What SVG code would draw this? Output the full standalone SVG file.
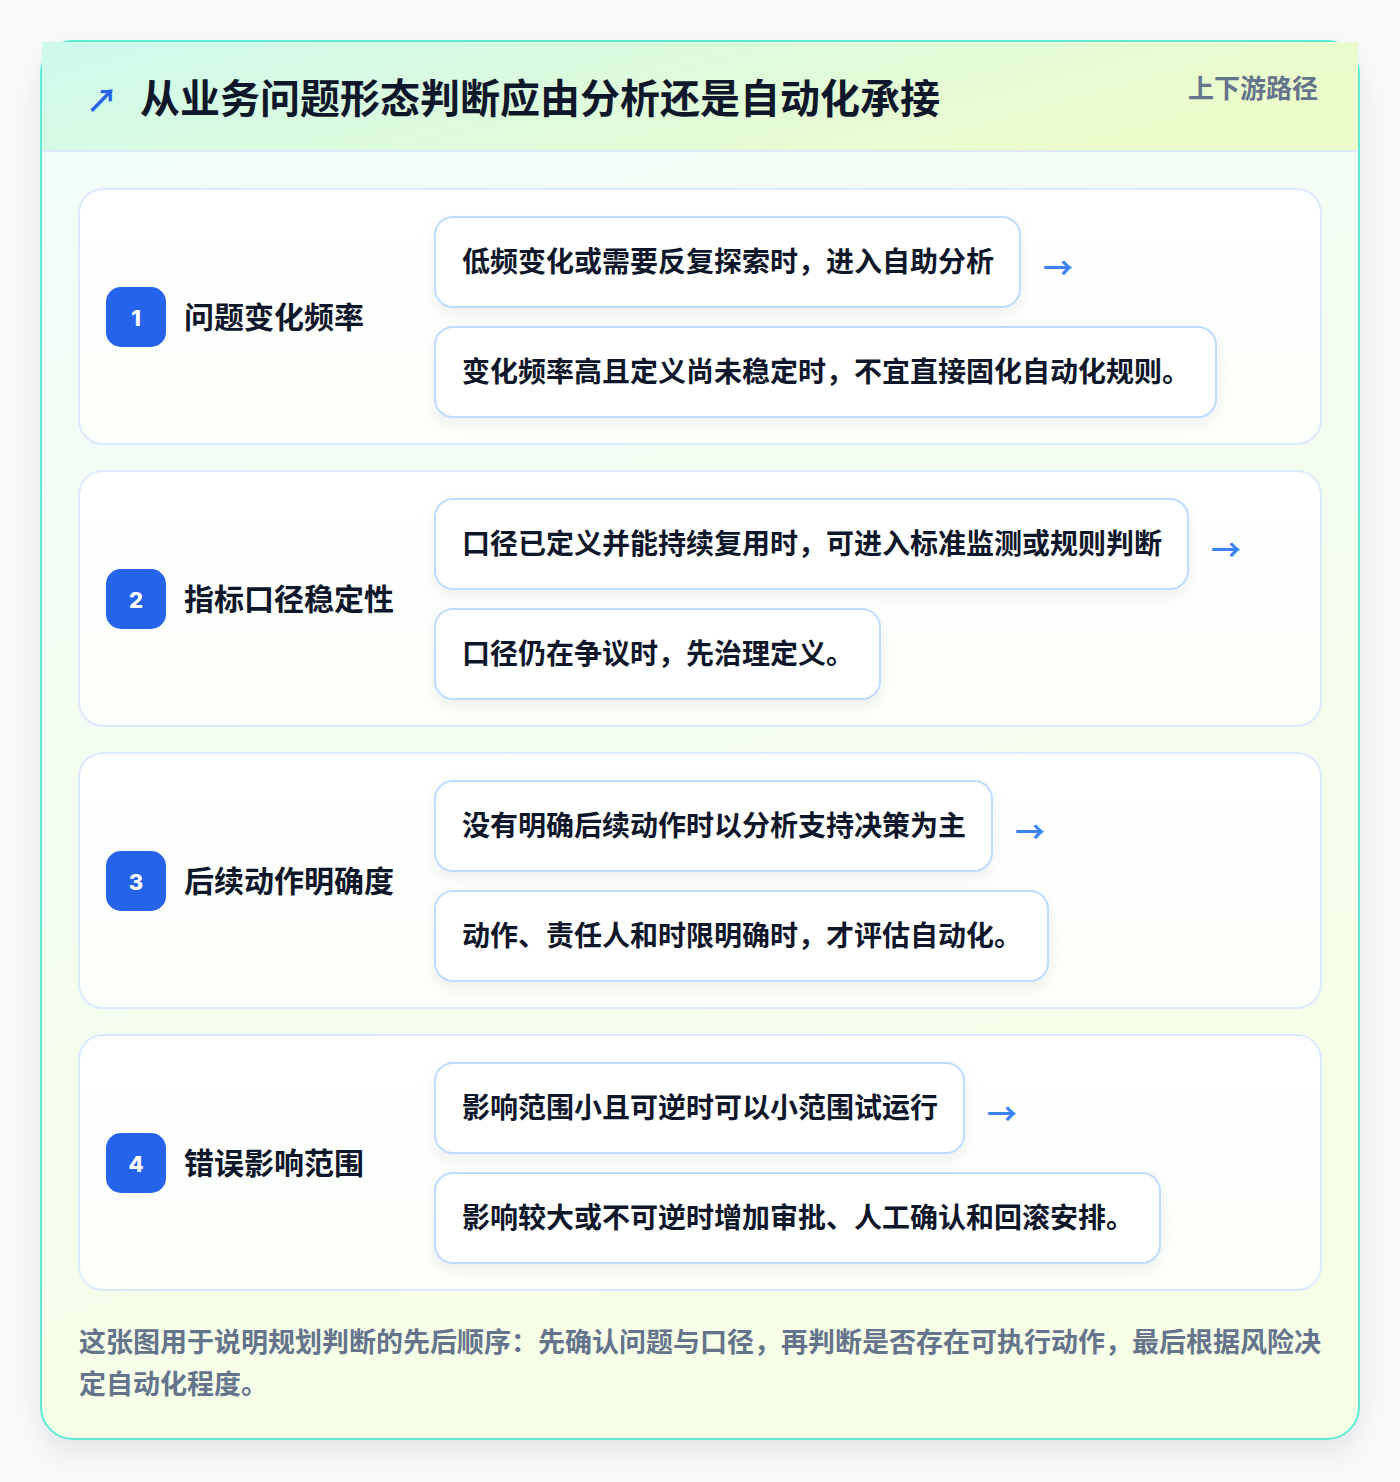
<svg xmlns="http://www.w3.org/2000/svg" width="1400" height="1482" viewBox="0 0 1400 1482">
<defs>
<linearGradient id="outerBg" x1="0" y1="0" x2="0.3" y2="1">
<stop offset="0" stop-color="#effdfa"/>
<stop offset="1" stop-color="#f7fee7"/>
</linearGradient>
<linearGradient id="headBg" x1="0" y1="0" x2="1" y2="0.3">
<stop offset="0" stop-color="#cdfaee"/>
<stop offset="1" stop-color="#ecfccb"/>
</linearGradient>
<linearGradient id="cardBg" x1="0" y1="0" x2="0" y2="1">
<stop offset="0" stop-color="#ffffff"/>
<stop offset="1" stop-color="#fbfef9"/>
</linearGradient>
<filter id="bigShadow" x="-10%" y="-10%" width="120%" height="120%">
<feDropShadow dx="0" dy="12" stdDeviation="14" flood-color="#0f172a" flood-opacity="0.08"/>
</filter>
<filter id="boxShadow" x="-10%" y="-20%" width="120%" height="150%">
<feDropShadow dx="0" dy="6" stdDeviation="7" flood-color="#0f172a" flood-opacity="0.06"/>
</filter>
</defs>
<style>
.title{font-family:"Noto Sans CJK SC","Noto Sans",sans-serif;font-weight:700;font-size:40px;fill:#0f172a}
.tag{font-family:"Noto Sans CJK SC","Noto Sans",sans-serif;font-weight:700;font-size:26px;fill:#64748b}
.card{fill:url(#cardBg);stroke:#dbeafe;stroke-width:2}
.badge{fill:#2563eb}
.num{font-family:"Inter","Noto Sans",sans-serif;font-weight:800;font-size:22px;fill:#ffffff}
.label{font-family:"Noto Sans CJK SC","Noto Sans",sans-serif;font-weight:700;font-size:30px;fill:#0f172a}
.box{fill:#ffffff;stroke:#bfdbfe;stroke-width:2}
.btxt{font-family:"Noto Sans CJK SC","Noto Sans",sans-serif;font-weight:700;font-size:28px;fill:#0f172a}
.arrow{font-family:"Noto Sans CJK SC",sans-serif;font-weight:700;font-size:30px;fill:#3b82f6}
.foot{font-family:"Noto Sans CJK SC","Noto Sans",sans-serif;font-weight:700;font-size:27px;fill:#64748b}
</style>
<rect x="0" y="0" width="1400" height="1482" fill="#f8f9fa"/>
<g id="frame">
<rect x="41" y="41" width="1318" height="1398" rx="32" fill="url(#outerBg)" stroke="#5eead4" stroke-width="2" filter="url(#bigShadow)"/>
<rect x="42" y="42" width="1316" height="109" fill="url(#headBg)"/>
<line x1="42" y1="151" x2="1358" y2="151" stroke="#dbeafe" stroke-width="2"/>
<text x="86" y="112" font-family="Noto Sans CJK SC,sans-serif" font-weight="700" font-size="32" fill="#2563eb">↗</text>
<text class="title" x="140" y="113">从业务问题形态判断应由分析还是自动化承接</text>
<text class="tag" x="1318" y="98" text-anchor="end">上下游路径</text>
</g>
<g id="node1">
<rect class="card" x="79" y="189" width="1242" height="255" rx="24"/>
<rect class="badge" x="106" y="287" width="60" height="60" rx="15"/>
<text class="num" x="136" y="326" text-anchor="middle">1</text>
<text class="label" x="184" y="328">问题变化频率</text>
<rect class="box" x="435" y="217" width="585" height="90" rx="18" filter="url(#boxShadow)"/>
<text class="btxt" x="462" y="272">低频变化或需要反复探索时，进入自助分析</text>
<rect class="box" x="435" y="327" width="781" height="90" rx="18" filter="url(#boxShadow)"/>
<text class="btxt" x="462" y="382">变化频率高且定义尚未稳定时，不宜直接固化自动化规则。</text>
</g>
<g id="node2">
<rect class="card" x="79" y="471" width="1242" height="255" rx="24"/>
<rect class="badge" x="106" y="569" width="60" height="60" rx="15"/>
<text class="num" x="136" y="608" text-anchor="middle">2</text>
<text class="label" x="184" y="610">指标口径稳定性</text>
<rect class="box" x="435" y="499" width="753" height="90" rx="18" filter="url(#boxShadow)"/>
<text class="btxt" x="462" y="554">口径已定义并能持续复用时，可进入标准监测或规则判断</text>
<rect class="box" x="435" y="609" width="445" height="90" rx="18" filter="url(#boxShadow)"/>
<text class="btxt" x="462" y="664">口径仍在争议时，先治理定义。</text>
</g>
<g id="node3">
<rect class="card" x="79" y="753" width="1242" height="255" rx="24"/>
<rect class="badge" x="106" y="851" width="60" height="60" rx="15"/>
<text class="num" x="136" y="890" text-anchor="middle">3</text>
<text class="label" x="184" y="892">后续动作明确度</text>
<rect class="box" x="435" y="781" width="557" height="90" rx="18" filter="url(#boxShadow)"/>
<text class="btxt" x="462" y="836">没有明确后续动作时以分析支持决策为主</text>
<rect class="box" x="435" y="891" width="613" height="90" rx="18" filter="url(#boxShadow)"/>
<text class="btxt" x="462" y="946">动作、责任人和时限明确时，才评估自动化。</text>
</g>
<g id="node4">
<rect class="card" x="79" y="1035" width="1242" height="255" rx="24"/>
<rect class="badge" x="106" y="1133" width="60" height="60" rx="15"/>
<text class="num" x="136" y="1172" text-anchor="middle">4</text>
<text class="label" x="184" y="1174">错误影响范围</text>
<rect class="box" x="435" y="1063" width="529" height="90" rx="18" filter="url(#boxShadow)"/>
<text class="btxt" x="462" y="1118">影响范围小且可逆时可以小范围试运行</text>
<rect class="box" x="435" y="1173" width="725" height="90" rx="18" filter="url(#boxShadow)"/>
<text class="btxt" x="462" y="1228">影响较大或不可逆时增加审批、人工确认和回滚安排。</text>
</g>
<g id="connectors">
<text class="arrow" x="1043" y="279">→</text>
<text class="arrow" x="1211" y="561">→</text>
<text class="arrow" x="1015" y="843">→</text>
<text class="arrow" x="987" y="1125">→</text>
</g>
<g id="footer">
<text class="foot" x="79" y="1352">这张图用于说明规划判断的先后顺序：先确认问题与口径，再判断是否存在可执行动作，最后根据风险决</text>
<text class="foot" x="79" y="1394">定自动化程度。</text>
</g>
</svg>
